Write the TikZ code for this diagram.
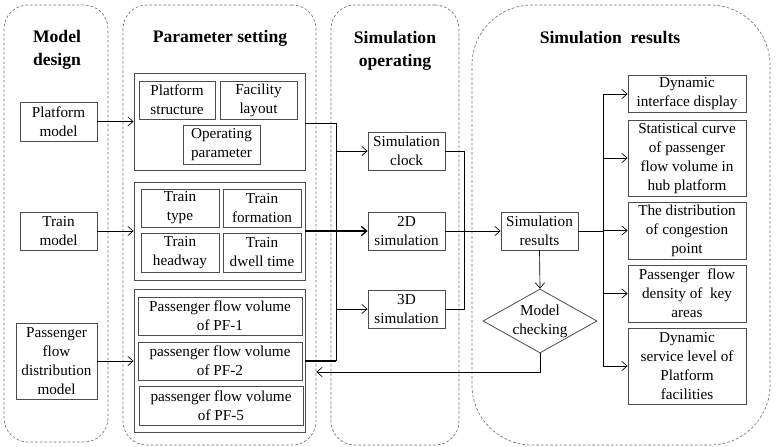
\documentclass[tikz,border=0pt]{standalone}
\usepackage{fontspec}
\setmainfont{Liberation Serif}
\usepackage{tikz}
\usetikzlibrary{arrows.meta,shapes.geometric}

\begin{document}
\begin{tikzpicture}[x=0.75pt,y=-0.75pt,
    lane/.style={draw=black!55, line width=0.5pt, dash pattern=on 2pt off 1.5pt,
                 rounded corners=18pt},
    title/.style={font=\fontsize{13.2}{17}\selectfont\bfseries, align=center},
    box/.style 2 args={draw=black!70, line width=0.6pt, inner sep=0pt, align=center,
                 minimum width=#1*0.75pt, minimum height=#2*0.75pt,
                 font=\fontsize{11.4}{14.2}\selectfont},
    grp/.style 2 args={draw=black!70, line width=0.6pt, inner sep=0pt,
                 minimum width=#1*0.75pt, minimum height=#2*0.75pt},
    arr/.style={-{Straight Barb[length=4pt,width=7pt]}, line width=0.5pt},
    line/.style={line width=0.5pt}]
    \useasboundingbox (0,0) rectangle (777,446);

    % lanes
    \node[lane, minimum width=104*0.75pt, minimum height=437*0.75pt] (lane1) at (56,223.5) {};
    \node[lane, minimum width=193*0.75pt, minimum height=440*0.75pt] (lane2) at (219.5,225) {};
    \node[lane, minimum width=128*0.75pt, minimum height=440*0.75pt] (lane3) at (395,225) {};
    \node[lane, rounded corners=45pt, minimum width=298*0.75pt, minimum height=440*0.75pt] (lane4) at (621,225) {};

    \node[title] (t1) at (57,50) {Model\\design};
    \node[title] (t2) at (220,38) {Parameter setting};
    \node[title] (t3) at (395,51) {Simulation\\operating};
    \node[title] (t4) at (610,38) {Simulation\ \ results};

    % model design
    \node[box={77}{39}] (plat) at (58.5,121.5) {Platform\\model};
    \node[box={77}{38}] (train) at (58.5,231) {Train\\model};
    \node[box={81}{76}] (pfd) at (56.5,361) {Passenger\\flow\\distribution\\model};

    % parameter setting
    \node[grp={171}{97}] (grp1) at (219.5,121.5) {};
    \node[box={76}{38}] (pstruct) at (177,100) {Platform\\structure};
    \node[box={77}{38}] (flayout) at (258.5,100) {Facility\\layout};
    \node[box={77}{39}] (oppar) at (221.5,144.5) {Operating\\parameter};

    \node[grp={171}{98}] (grp2) at (219.5,231) {};
    \node[box={78}{38}] (ttype) at (180,208) {Train\\type};
    \node[box={78}{38}] (tform) at (262,208) {Train\\formation};
    \node[box={78}{39}] (thead) at (180,252.5) {Train\\headway};
    \node[box={78}{39}] (tdwell) at (262,252.5) {Train\\dwell time};

    \node[grp={171}{143}] (grp3) at (219.5,360.5) {};
    \node[box={164}{38}] (pf1) at (220,316) {Passenger flow volume\\of PF-1};
    \node[box={164}{38}] (pf2) at (220,361) {passenger flow volume\\of PF-2};
    \node[box={164}{39}] (pf5) at (221,405.5) {passenger flow volume\\of PF-5};

    % simulation operating
    \node[box={77}{38}] (clock) at (406.5,151) {Simulation\\clock};
    \node[box={77}{38}] (sim2d) at (406.5,231) {2D\\simulation};
    \node[box={77}{38}] (sim3d) at (406.5,309) {3D\\simulation};

    % simulation results
    \node[box={77}{38}] (res) at (539.5,231) {Simulation\\results};
    \node[box={114}{64}, diamond, aspect=1.78] (check) at (540,321) {Model\\checking};
    \node[box={118}{37}] (out1) at (687,94) {Dynamic\\interface display};
    \node[box={118}{76}] (out2) at (687,158) {Statistical curve\\of passenger\\flow volume in\\hub platform};
    \node[box={118}{57}] (out3) at (687,230.5) {The distribution\\of congestion\\point};
    \node[box={118}{57}] (out4) at (687,293.5) {Passenger\ \ flow\\density of\ \ key\\areas};
    \node[box={118}{76}] (out5) at (687,366) {Dynamic\\service level of\\Platform\\facilities};

    \coordinate (b1) at (336,123);
    \coordinate (b3) at (336,361);
    \coordinate (c1) at (464,151);
    \coordinate (ob) at (603,231);
    \coordinate (fb) at (lane2.east |- 0,372);

    % connectors
    \draw[arr] (plat.east) -- (plat.east -| grp1.west);
    \draw[arr] (train.east) -- (train.east -| grp2.west);
    \draw[arr] (pfd.east) -- (pfd.east -| grp3.west);

    \draw[line] (grp1.east |- b1) -- (b1) -- (b3);
    \draw[line, line width=1pt] (grp3.east |- b3) -- (b3);
    \draw[arr, line width=1pt] (grp2.east) -- (sim2d.west);
    \draw[arr] (clock.west -| b1) -- (clock.west);
    \draw[arr] (sim3d.west -| b1) -- (sim3d.west);
    \draw[line] (clock.east) -- (c1) |- (sim3d.east);

    \draw[arr] (sim2d.east) -- (res.west);
    \draw[arr] (res.south) -- (check.north);
    \draw[arr] (check.south) |- (fb);

    \draw[line] (res.east) -- (ob);
    \draw[line] (ob |- out1.west) -- (ob |- out5.west);
    \foreach \o in {out1,out2,out3,out4,out5}
        \draw[arr] (ob |- \o.west) -- (\o.west);
\end{tikzpicture}
\end{document}
